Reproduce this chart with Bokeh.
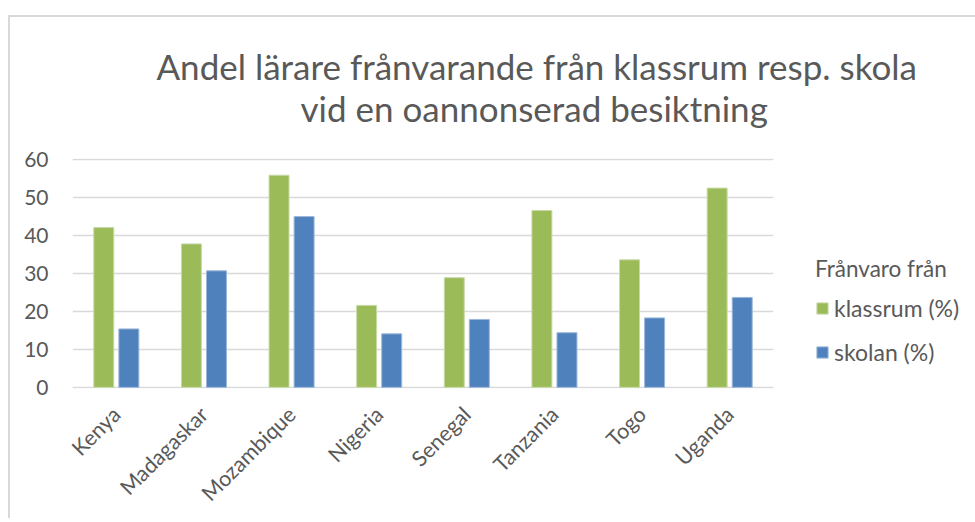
import math
from bokeh.plotting import figure
from bokeh.models import FactorRange, Range1d, Legend, LegendItem, Title, FixedTicker
from bokeh.transform import dodge
from bokeh.embed import file_html
from bokeh.resources import INLINE

countries = ["Kenya", "Madagaskar", "Mozambique", "Nigeria", "Senegal", "Tanzania", "Togo", "Uganda"]
klassrum = [42.1, 37.8, 55.9, 21.6, 28.9, 46.6, 33.6, 52.5]
skolan = [15.4, 30.7, 45.0, 14.1, 17.9, 14.4, 18.3, 23.7]
y_ticks = [0, 10, 20, 30, 40, 50, 60]
title_lines = ["Andel lärare frånvarande från klassrum resp. skola", "vid en oannonserad besiktning"]
legend_title = "Frånvaro från"
series_names = ["klassrum (%)", "skolan (%)"]

GREEN = "#9BBB59"
BLUE = "#4F81BD"
TXT = "#595959"
FONT = "Lato"

p = figure(
    x_range=FactorRange(*countries),
    y_range=Range1d(-0.3, 60.3),
    frame_width=701, frame_height=230,
    min_border_left=62, min_border_right=194, min_border_top=141, min_border_bottom=126,
    output_backend="svg", toolbar_location=None, tools="",
)
p.margin = (15, 0, 0, 8)
p.styles = {"border-top": "2px solid #D9D9D9", "border-left": "2px solid #D9D9D9"}
p.outline_line_color = None

data = {"country": countries, "klassrum": klassrum, "skolan": skolan}
r1 = p.vbar(x=dodge("country", -0.143, range=p.x_range), top="klassrum", width=0.228,
            source=data, fill_color=GREEN, line_color="#C9DAA8", line_width=1)
r2 = p.vbar(x=dodge("country", 0.143, range=p.x_range), top="skolan", width=0.228,
            source=data, fill_color=BLUE, line_color="#9DB7DA", line_width=1)

p.ygrid.grid_line_color = "#D9D9D9"
p.ygrid.grid_line_width = 1.5
p.xgrid.grid_line_color = None

p.yaxis.ticker = FixedTicker(ticks=y_ticks)
p.yaxis.axis_line_color = None
p.yaxis.major_tick_line_color = None
p.yaxis.minor_tick_line_color = None
p.yaxis.major_label_text_font = FONT
p.yaxis.major_label_text_font_size = "21px"
p.yaxis.major_label_text_color = TXT
p.yaxis.major_label_standoff = 18

p.xaxis.axis_line_color = None
p.xaxis.major_tick_line_color = None
p.xaxis.major_label_orientation = math.pi / 4
p.xaxis.major_label_text_font = FONT
p.xaxis.major_label_text_font_size = "21.5px"
p.xaxis.major_label_text_color = TXT
p.xaxis.major_label_standoff = 16

# title lines (second line added first: it sits closest to the plot)
p.add_layout(Title(text=title_lines[1], align="left", offset=228, standoff=60,
                   text_font=FONT, text_font_size="35px", text_color=TXT,
                   text_font_style="normal"), "above")
p.add_layout(Title(text=title_lines[0], align="left", offset=84, standoff=-65,
                   text_font=FONT, text_font_size="35px", text_color=TXT,
                   text_font_style="normal"), "above")

legend = Legend(
    items=[LegendItem(label=series_names[0], renderers=[r1]),
           LegendItem(label=series_names[1], renderers=[r2])],
    title=legend_title, location=(42, 22),
    title_text_font=FONT, title_text_font_size="22.5px", title_text_color=TXT,
    title_text_font_style="normal", title_standoff=12,
    label_text_font=FONT, label_text_font_size="23px", label_text_color=TXT,
    glyph_width=14, glyph_height=14, label_standoff=5, spacing=16,
    border_line_color=None, background_fill_alpha=0, padding=0, margin=0,
)
p.add_layout(legend, "right")

open("out.html", "w").write(file_html(p, INLINE))
